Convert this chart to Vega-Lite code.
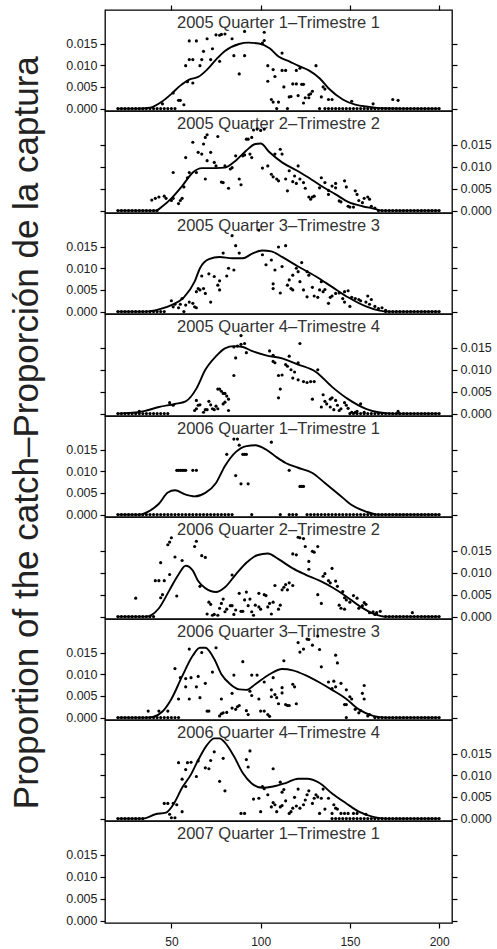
{
"$schema":"https://vega.github.io/schema/vega-lite/v6.json",
"background":"white",
"padding":{"left":10,"top":3,"right":5,"bottom":5},
"title":{"text":"Proportion of the catch–Proporción de la captura","orient":"left","anchor":"middle","fontSize":35,"font":"Liberation Sans","fontWeight":"normal","color":"#222","offset":20,"dx":43},
"config":{"view":{"stroke":"black","strokeWidth":1.3},"axis":{"domain":false,"grid":false,"tickColor":"black","tickSize":5,"tickWidth":1.2,"labelFont":"Liberation Sans","labelFontSize":12.5,"labelColor":"#222","labelPadding":3}},
"bounds":"flush","spacing":0,
"datasets":{
"titles":[{"q":1,"label":"2005 Quarter 1–Trimestre 1"},{"q":2,"label":"2005 Quarter 2–Trimestre 2"},{"q":3,"label":"2005 Quarter 3–Trimestre 3"},{"q":4,"label":"2005 Quarter 4–Trimestre 4"},{"q":5,"label":"2006 Quarter 1–Trimestre 1"},{"q":6,"label":"2006 Quarter 2–Trimestre 2"},{"q":7,"label":"2006 Quarter 3–Trimestre 3"},{"q":8,"label":"2006 Quarter 4–Trimestre 4"},{"q":9,"label":"2007 Quarter 1–Trimestre 1"}],
"q1":[{"x":20,"y":0},{"x":22,"y":0},{"x":24,"y":0},{"x":26,"y":0},{"x":28,"y":0},{"x":30,"y":0},{"x":32,"y":0},{"x":34,"y":0},{"x":36,"y":0},{"x":38,"y":0},{"x":40,"y":0},{"x":42,"y":0},{"x":44,"y":0},{"x":46,"y":0},{"x":48,"y":0},{"x":50,"y":0},{"x":52,"y":0},{"x":109,"y":0},{"x":115,"y":0},{"x":133,"y":0},{"x":136,"y":0},{"x":138,"y":0},{"x":140,"y":0},{"x":142,"y":0},{"x":144,"y":0},{"x":146,"y":0},{"x":148,"y":0},{"x":150,"y":0},{"x":152,"y":0},{"x":154,"y":0},{"x":156,"y":0},{"x":158,"y":0},{"x":160,"y":0},{"x":162,"y":0},{"x":164,"y":0},{"x":166,"y":0},{"x":168,"y":0},{"x":170,"y":0},{"x":172,"y":0},{"x":174,"y":0},{"x":176,"y":0},{"x":178,"y":0},{"x":180,"y":0},{"x":182,"y":0},{"x":184,"y":0},{"x":186,"y":0},{"x":188,"y":0},{"x":190,"y":0},{"x":192,"y":0},{"x":194,"y":0},{"x":196,"y":0},{"x":198,"y":0},{"x":200,"y":0},
{"x":45,"y":0.0011},{"x":51,"y":0.0036},{"x":54,"y":0.0019},{"x":55,"y":0.0019},{"x":57,"y":0.0009},{"x":58,"y":0.0099},{"x":60,"y":0.0113},{"x":60,"y":0.0156},{"x":64,"y":0.0156},{"x":62,"y":0.0113},{"x":59,"y":0.0062},{"x":62,"y":0.0059},{"x":66,"y":0.0099},{"x":67,"y":0.0113},{"x":68,"y":0.0132},{"x":70,"y":0.0161},{"x":72,"y":0.0113},{"x":73,"y":0.0138},{"x":75,"y":0.017},{"x":77,"y":0.0169},{"x":78,"y":0.0171},{"x":80,"y":0.0172},{"x":77,"y":0.0109},{"x":84,"y":0.0161},{"x":85,"y":0.0122},{"x":88,"y":0.008},{"x":91,"y":0.0122},{"x":91,"y":0.0178},{"x":101,"y":0.0151},{"x":102,"y":0.0157},{"x":102,"y":0.0176},{"x":104,"y":0.0099},{"x":104,"y":0.0063},{"x":106,"y":0.0021},{"x":107,"y":0.0015},{"x":107,"y":0.009},{"x":108,"y":0.0074},{"x":110,"y":0.0015},{"x":112,"y":0.0128},{"x":112,"y":0.0088},{"x":113,"y":0.005},{"x":114,"y":0.0088},{"x":116,"y":0.0027},{"x":117,"y":0.0028},{"x":118,"y":0.0057},{"x":120,"y":0.0057},{"x":120,"y":0.0088},{"x":121,"y":0.003},{"x":122,"y":0.0093},{"x":123,"y":0.0056},{"x":124,"y":0.0056},{"x":124,"y":0.0013},{"x":125,"y":0.0025},{"x":127,"y":0.0032},{"x":127,"y":0.0025},{"x":128,"y":0.0034},{"x":129,"y":0.004},{"x":131,"y":0.0099},{"x":134,"y":0.0027},{"x":135,"y":0.005},{"x":136,"y":0.0045},{"x":138,"y":0.0021},{"x":140,"y":0.0021},{"x":151,"y":0.0017},{"x":163,"y":0.0011},{"x":174,"y":0.0021},{"x":177,"y":0.0019}],
"c1":[{"x":20,"y":0},{"x":30,"y":0},{"x":38,"y":0.0002},{"x":45,"y":0.0017},{"x":50,"y":0.0034},{"x":55,"y":0.0053},{"x":60,"y":0.0067},{"x":65,"y":0.0073},{"x":70,"y":0.009},{"x":75,"y":0.0113},{"x":80,"y":0.0133},{"x":88,"y":0.0149},{"x":93,"y":0.0152},{"x":99,"y":0.015},{"x":105,"y":0.0139},{"x":110,"y":0.012},{"x":116,"y":0.0109},{"x":121,"y":0.0099},{"x":127,"y":0.0088},{"x":133,"y":0.007},{"x":138,"y":0.0047},{"x":146,"y":0.0021},{"x":153,"y":0.0009},{"x":161,"y":0.0004},{"x":168,"y":0.0001},{"x":180,"y":0},{"x":200,"y":0}],
"q2":[{"x":20,"y":0},{"x":22,"y":0},{"x":24,"y":0},{"x":26,"y":0},{"x":28,"y":0},{"x":30,"y":0},{"x":32,"y":0},{"x":34,"y":0},{"x":36,"y":0},{"x":38,"y":0},{"x":40,"y":0},{"x":42,"y":0},{"x":166,"y":0},{"x":168,"y":0},{"x":170,"y":0},{"x":172,"y":0},{"x":174,"y":0},{"x":176,"y":0},{"x":178,"y":0},{"x":180,"y":0},{"x":182,"y":0},{"x":184,"y":0},{"x":186,"y":0},{"x":188,"y":0},{"x":190,"y":0},{"x":192,"y":0},{"x":194,"y":0},{"x":196,"y":0},{"x":198,"y":0},{"x":200,"y":0},
{"x":39,"y":0.0024},{"x":41,"y":0.0028},{"x":43,"y":0.0031},{"x":46,"y":0.0033},{"x":47,"y":0.0028},{"x":50,"y":0.0023},{"x":51,"y":0.0028},{"x":54,"y":0.0016},{"x":55,"y":0.0023},{"x":56,"y":0.0028},{"x":51,"y":0.0087},{"x":57,"y":0.0054},{"x":58,"y":0.0121},{"x":59,"y":0.0075},{"x":60,"y":0.0087},{"x":62,"y":0.0156},{"x":64,"y":0.0087},{"x":65,"y":0.0133},{"x":67,"y":0.0129},{"x":68,"y":0.0152},{"x":69,"y":0.0167},{"x":70,"y":0.0173},{"x":70,"y":0.0114},{"x":69,"y":0.0072},{"x":72,"y":0.0133},{"x":74,"y":0.011},{"x":75,"y":0.0102},{"x":76,"y":0.0169},{"x":78,"y":0.0065},{"x":79,"y":0.0064},{"x":80,"y":0.0102},{"x":82,"y":0.0051},{"x":83,"y":0.0095},{"x":84,"y":0.0098},{"x":86,"y":0.0125},{"x":88,"y":0.0072},{"x":89,"y":0.0059},{"x":90,"y":0.0125},{"x":91,"y":0.0127},{"x":92,"y":0.0163},{"x":93,"y":0.0163},{"x":95,"y":0.0167},{"x":96,"y":0.0184},{"x":98,"y":0.0186},{"x":100,"y":0.0183},{"x":102,"y":0.0186},{"x":94,"y":0.0129},{"x":95,"y":0.0121},{"x":101,"y":0.0097},{"x":104,"y":0.0102},{"x":106,"y":0.0083},{"x":107,"y":0.0077},{"x":109,"y":0.0072},{"x":110,"y":0.0068},{"x":108,"y":0.0129},{"x":111,"y":0.014},{"x":112,"y":0.0129},{"x":114,"y":0.0072},{"x":115,"y":0.0045},{"x":116,"y":0.0091},{"x":118,"y":0.0066},{"x":120,"y":0.0062},{"x":119,"y":0.0079},{"x":121,"y":0.0102},{"x":122,"y":0.0072},{"x":124,"y":0.0064},{"x":125,"y":0.0051},{"x":127,"y":0.0031},{"x":128,"y":0.0026},{"x":129,"y":0.0031},{"x":130,"y":0.0033},{"x":133,"y":0.0052},{"x":134,"y":0.0075},{"x":136,"y":0.0064},{"x":138,"y":0.0046},{"x":138,"y":0.0037},{"x":140,"y":0.0056},{"x":142,"y":0.0062},{"x":142,"y":0.0052},{"x":144,"y":0.0022},{"x":145,"y":0.002},{"x":147,"y":0.0068},{"x":148,"y":0.0054},{"x":149,"y":0.001},{"x":150,"y":0.0008},{"x":152,"y":0.0008},{"x":153,"y":0.0045},{"x":154,"y":0.0037},{"x":155,"y":0.0023},{"x":157,"y":0.0018},{"x":158,"y":0.0028},{"x":160,"y":0.0031},{"x":161,"y":0.0026},{"x":162,"y":0.001},{"x":164,"y":0.0006}],
"c2":[{"x":20,"y":0},{"x":41,"y":0},{"x":45,"y":0.001},{"x":50,"y":0.0028},{"x":56,"y":0.0056},{"x":62,"y":0.0087},{"x":67,"y":0.0097},{"x":75,"y":0.0097},{"x":80,"y":0.0098},{"x":86,"y":0.0114},{"x":92,"y":0.0137},{"x":97,"y":0.0152},{"x":100,"y":0.0153},{"x":105,"y":0.0133},{"x":112,"y":0.011},{"x":120,"y":0.0092},{"x":127,"y":0.0075},{"x":134,"y":0.0056},{"x":142,"y":0.0037},{"x":149,"y":0.002},{"x":157,"y":0.001},{"x":164,"y":0.0004},{"x":168,"y":0},{"x":200,"y":0}],
"q3":[{"x":20,"y":0},{"x":22,"y":0},{"x":24,"y":0},{"x":26,"y":0},{"x":28,"y":0},{"x":30,"y":0},{"x":32,"y":0},{"x":34,"y":0},{"x":36,"y":0},{"x":38,"y":0},{"x":40,"y":0},{"x":42,"y":0},{"x":44,"y":0},{"x":46,"y":0},{"x":57,"y":0},{"x":170,"y":0},{"x":172,"y":0},{"x":174,"y":0},{"x":176,"y":0},{"x":178,"y":0},{"x":180,"y":0},{"x":182,"y":0},{"x":184,"y":0},{"x":186,"y":0},{"x":188,"y":0},{"x":190,"y":0},{"x":192,"y":0},{"x":194,"y":0},{"x":196,"y":0},{"x":198,"y":0},{"x":200,"y":0},
{"x":50,"y":0.0025},{"x":51,"y":0.0011},{"x":52,"y":0.0017},{"x":54,"y":0.0009},{"x":55,"y":0.0017},{"x":56,"y":0.003},{"x":58,"y":0.0015},{"x":60,"y":0.0022},{"x":62,"y":0.0019},{"x":63,"y":0.0011},{"x":64,"y":0.0009},{"x":64,"y":0.0046},{"x":65,"y":0.0053},{"x":66,"y":0.005},{"x":68,"y":0.0053},{"x":67,"y":0.0082},{"x":69,"y":0.0042},{"x":71,"y":0.0087},{"x":72,"y":0.0022},{"x":74,"y":0.0081},{"x":76,"y":0.0061},{"x":77,"y":0.005},{"x":77,"y":0.0071},{"x":79,"y":0.0135},{"x":81,"y":0.0082},{"x":82,"y":0.01},{"x":85,"y":0.0096},{"x":84,"y":0.0175},{"x":86,"y":0.0152},{"x":88,"y":0.0135},{"x":99,"y":0.0188},{"x":101,"y":0.0131},{"x":103,"y":0.0108},{"x":106,"y":0.0119},{"x":107,"y":0.0064},{"x":107,"y":0.0053},{"x":108,"y":0.0096},{"x":110,"y":0.0149},{"x":114,"y":0.0152},{"x":111,"y":0.0043},{"x":112,"y":0.0104},{"x":115,"y":0.0061},{"x":116,"y":0.0073},{"x":117,"y":0.0053},{"x":118,"y":0.005},{"x":118,"y":0.0084},{"x":120,"y":0.01},{"x":121,"y":0.0092},{"x":123,"y":0.0113},{"x":122,"y":0.0069},{"x":124,"y":0.005},{"x":126,"y":0.0034},{"x":126,"y":0.0092},{"x":127,"y":0.0084},{"x":129,"y":0.0056},{"x":130,"y":0.0036},{"x":132,"y":0.0033},{"x":133,"y":0.005},{"x":134,"y":0.0069},{"x":135,"y":0.0046},{"x":136,"y":0.0051},{"x":138,"y":0.0019},{"x":139,"y":0.0033},{"x":140,"y":0.0036},{"x":142,"y":0.0042},{"x":144,"y":0.0043},{"x":146,"y":0.003},{"x":147,"y":0.0022},{"x":147,"y":0.0046},{"x":149,"y":0.0048},{"x":150,"y":0.0012},{"x":151,"y":0.0033},{"x":153,"y":0.003},{"x":155,"y":0.0028},{"x":156,"y":0.0025},{"x":159,"y":0.0022},{"x":160,"y":0.0036},{"x":161,"y":0.0017},{"x":162,"y":0.0028},{"x":164,"y":0.0012},{"x":166,"y":0.0007},{"x":168,"y":0.0009},{"x":170,"y":0.0003}],
"c3":[{"x":20,"y":0},{"x":36,"y":0},{"x":43,"y":0.0005},{"x":50,"y":0.0015},{"x":57,"y":0.0033},{"x":63,"y":0.0069},{"x":66,"y":0.01},{"x":71,"y":0.0121},{"x":77,"y":0.0126},{"x":84,"y":0.0123},{"x":90,"y":0.0123},{"x":95,"y":0.0133},{"x":101,"y":0.0141},{"x":106,"y":0.0139},{"x":112,"y":0.0126},{"x":121,"y":0.0104},{"x":131,"y":0.0081},{"x":140,"y":0.0057},{"x":149,"y":0.0033},{"x":159,"y":0.0012},{"x":166,"y":0.0003},{"x":172,"y":0},{"x":200,"y":0}],
"q4":[{"x":20,"y":0},{"x":22,"y":0},{"x":24,"y":0},{"x":26,"y":0},{"x":28,"y":0},{"x":30,"y":0},{"x":32,"y":0},{"x":34,"y":0},{"x":36,"y":0},{"x":38,"y":0},{"x":40,"y":0},{"x":42,"y":0},{"x":44,"y":0},{"x":46,"y":0},{"x":48,"y":0},{"x":150,"y":0},{"x":152,"y":0},{"x":154,"y":0},{"x":156,"y":0},{"x":158,"y":0},{"x":160,"y":0},{"x":162,"y":0},{"x":164,"y":0},{"x":166,"y":0},{"x":168,"y":0},{"x":170,"y":0},{"x":172,"y":0},{"x":174,"y":0},{"x":176,"y":0},{"x":178,"y":0},{"x":180,"y":0},{"x":182,"y":0},{"x":184,"y":0},{"x":186,"y":0},{"x":188,"y":0},{"x":190,"y":0},{"x":192,"y":0},{"x":194,"y":0},{"x":196,"y":0},{"x":198,"y":0},{"x":200,"y":0},
{"x":32,"y":0.0005},{"x":49,"y":0.0025},{"x":51,"y":0.0019},{"x":63,"y":0.0007},{"x":64,"y":0.0011},{"x":64,"y":0.003},{"x":65,"y":0.0019},{"x":66,"y":0.002},{"x":68,"y":0.0003},{"x":69,"y":0.0009},{"x":70,"y":0.0009},{"x":71,"y":0.0028},{"x":72,"y":0.002},{"x":73,"y":0.0011},{"x":74,"y":0.0009},{"x":75,"y":0.0017},{"x":76,"y":0.0011},{"x":76,"y":0.0056},{"x":77,"y":0.0056},{"x":78,"y":0.0051},{"x":79,"y":0.0046},{"x":80,"y":0.0046},{"x":81,"y":0.004},{"x":79,"y":0.0022},{"x":80,"y":0.0026},{"x":82,"y":0.0033},{"x":82,"y":0.0007},{"x":85,"y":0.0087},{"x":86,"y":0.0127},{"x":85,"y":0.0152},{"x":87,"y":0.0154},{"x":89,"y":0.0158},{"x":91,"y":0.016},{"x":92,"y":0.0139},{"x":89,"y":0.0178},{"x":105,"y":0.0143},{"x":107,"y":0.0133},{"x":107,"y":0.0119},{"x":108,"y":0.0116},{"x":110,"y":0.0087},{"x":112,"y":0.0088},{"x":111,"y":0.0056},{"x":110,"y":0.0036},{"x":114,"y":0.0112},{"x":115,"y":0.0108},{"x":116,"y":0.0131},{"x":117,"y":0.01},{"x":119,"y":0.0095},{"x":118,"y":0.0081},{"x":121,"y":0.0116},{"x":121,"y":0.0077},{"x":122,"y":0.016},{"x":124,"y":0.0073},{"x":126,"y":0.0071},{"x":128,"y":0.0073},{"x":130,"y":0.0073},{"x":132,"y":0.01},{"x":129,"y":0.0033},{"x":134,"y":0.0015},{"x":135,"y":0.0043},{"x":136,"y":0.0028},{"x":137,"y":0.0022},{"x":139,"y":0.0033},{"x":140,"y":0.0036},{"x":139,"y":0.0015},{"x":141,"y":0.0009},{"x":142,"y":0.003},{"x":143,"y":0.0019},{"x":144,"y":0.0007},{"x":145,"y":0.0011},{"x":147,"y":0.0025},{"x":148,"y":0.0019},{"x":149,"y":0.0012},{"x":151,"y":0.0003},{"x":153,"y":0.0003},{"x":154,"y":0.0005},{"x":156,"y":0.0022},{"x":158,"y":0.0003},{"x":177,"y":0.0005}],
"c4":[{"x":20,"y":0},{"x":34,"y":0.0005},{"x":43,"y":0.0015},{"x":52,"y":0.0022},{"x":58,"y":0.0028},{"x":64,"y":0.0057},{"x":69,"y":0.01},{"x":75,"y":0.0131},{"x":80,"y":0.0149},{"x":85,"y":0.0154},{"x":90,"y":0.0152},{"x":95,"y":0.0143},{"x":103,"y":0.0133},{"x":112,"y":0.0126},{"x":121,"y":0.0112},{"x":131,"y":0.0095},{"x":140,"y":0.0061},{"x":149,"y":0.0033},{"x":159,"y":0.0011},{"x":166,"y":0.0003},{"x":174,"y":0},{"x":200,"y":0}],
"q5":[{"x":20,"y":0},{"x":22,"y":0},{"x":24,"y":0},{"x":26,"y":0},{"x":28,"y":0},{"x":30,"y":0},{"x":32,"y":0},{"x":34,"y":0},{"x":36,"y":0},{"x":38,"y":0},{"x":40,"y":0},{"x":42,"y":0},{"x":44,"y":0},{"x":46,"y":0},{"x":48,"y":0},{"x":50,"y":0},{"x":52,"y":0},{"x":54,"y":0},{"x":56,"y":0},{"x":58,"y":0},{"x":60,"y":0},{"x":62,"y":0},{"x":64,"y":0},{"x":66,"y":0},{"x":68,"y":0},{"x":70,"y":0},{"x":72,"y":0},{"x":74,"y":0},{"x":76,"y":0},{"x":78,"y":0},{"x":80,"y":0},{"x":82,"y":0},{"x":84,"y":0},{"x":95,"y":0},{"x":111,"y":0},{"x":116,"y":0},{"x":118,"y":0},{"x":120,"y":0},{"x":126,"y":0},{"x":128,"y":0},{"x":130,"y":0},{"x":132,"y":0},{"x":134,"y":0},{"x":136,"y":0},{"x":138,"y":0},{"x":140,"y":0},{"x":142,"y":0},{"x":144,"y":0},{"x":146,"y":0},{"x":148,"y":0},{"x":150,"y":0},{"x":152,"y":0},{"x":154,"y":0},{"x":156,"y":0},{"x":158,"y":0},{"x":160,"y":0},{"x":162,"y":0},{"x":164,"y":0},{"x":166,"y":0},{"x":168,"y":0},{"x":170,"y":0},{"x":172,"y":0},{"x":174,"y":0},{"x":176,"y":0},{"x":178,"y":0},{"x":180,"y":0},{"x":182,"y":0},{"x":184,"y":0},{"x":186,"y":0},{"x":188,"y":0},{"x":190,"y":0},{"x":192,"y":0},{"x":194,"y":0},{"x":196,"y":0},{"x":198,"y":0},{"x":200,"y":0},
{"x":53,"y":0.0102},{"x":54,"y":0.0102},{"x":55,"y":0.0102},{"x":56,"y":0.0102},{"x":57,"y":0.0102},{"x":58,"y":0.0102},{"x":62,"y":0.0102},{"x":64,"y":0.0102},{"x":81,"y":0.0139},{"x":85,"y":0.0174},{"x":87,"y":0.0174},{"x":86,"y":0.009},{"x":88,"y":0.016},{"x":89,"y":0.0071},{"x":93,"y":0.0071},{"x":90,"y":0.0139},{"x":91,"y":0.0139},{"x":92,"y":0.0139},{"x":106,"y":0.0167},{"x":116,"y":0.0102},{"x":122,"y":0.0065},{"x":123,"y":0.0065},{"x":124,"y":0.0065}],
"c5":[{"x":20,"y":0},{"x":32,"y":0},{"x":37,"y":0.0007},{"x":43,"y":0.0025},{"x":48,"y":0.0051},{"x":52,"y":0.0056},{"x":58,"y":0.0046},{"x":63,"y":0.0042},{"x":69,"y":0.005},{"x":75,"y":0.0073},{"x":80,"y":0.0112},{"x":86,"y":0.0144},{"x":92,"y":0.0158},{"x":97,"y":0.016},{"x":103,"y":0.015},{"x":108,"y":0.0135},{"x":114,"y":0.0119},{"x":121,"y":0.0108},{"x":129,"y":0.0096},{"x":136,"y":0.0073},{"x":144,"y":0.0046},{"x":151,"y":0.0022},{"x":159,"y":0.0007},{"x":166,"y":0},{"x":200,"y":0}],
"q6":[{"x":20,"y":0},{"x":22,"y":0},{"x":24,"y":0},{"x":26,"y":0},{"x":28,"y":0},{"x":30,"y":0},{"x":32,"y":0},{"x":34,"y":0},{"x":36,"y":0},{"x":38,"y":0},{"x":40,"y":0},{"x":170,"y":0},{"x":172,"y":0},{"x":174,"y":0},{"x":176,"y":0},{"x":178,"y":0},{"x":180,"y":0},{"x":182,"y":0},{"x":184,"y":0},{"x":186,"y":0},{"x":188,"y":0},{"x":190,"y":0},{"x":192,"y":0},{"x":194,"y":0},{"x":196,"y":0},{"x":198,"y":0},{"x":200,"y":0},
{"x":30,"y":0.0042},{"x":44,"y":0.0123},{"x":41,"y":0.0082},{"x":43,"y":0.0082},{"x":44,"y":0.0043},{"x":45,"y":0.005},{"x":46,"y":0.0082},{"x":48,"y":0.0164},{"x":49,"y":0.017},{"x":50,"y":0.018},{"x":49,"y":0.0096},{"x":52,"y":0.0136},{"x":53,"y":0.0047},{"x":56,"y":0.0128},{"x":63,"y":0.016},{"x":64,"y":0.0172},{"x":67,"y":0.0139},{"x":69,"y":0.0135},{"x":66,"y":0.0069},{"x":70,"y":0.0006},{"x":71,"y":0.0033},{"x":72,"y":0.0028},{"x":73,"y":0.0003},{"x":74,"y":0.0005},{"x":76,"y":0.0003},{"x":77,"y":0.0019},{"x":78,"y":0.003},{"x":79,"y":0.004},{"x":80,"y":0.0011},{"x":81,"y":0.0017},{"x":83,"y":0.0025},{"x":84,"y":0.0025},{"x":84,"y":0.0095},{"x":85,"y":0.0005},{"x":86,"y":0.0015},{"x":88,"y":0.0053},{"x":89,"y":0.0012},{"x":90,"y":0.0012},{"x":91,"y":0.0038},{"x":92,"y":0.0056},{"x":93,"y":0.0025},{"x":94,"y":0.004},{"x":95,"y":0.0011},{"x":96,"y":0.0003},{"x":97,"y":0.0026},{"x":99,"y":0.0022},{"x":99,"y":0.0053},{"x":100,"y":0.0017},{"x":102,"y":0.005},{"x":103,"y":0.0048},{"x":104,"y":0.0022},{"x":105,"y":0.003},{"x":106,"y":0.0006},{"x":107,"y":0.0033},{"x":108,"y":0.0071},{"x":110,"y":0.0017},{"x":111,"y":0.0026},{"x":112,"y":0.0061},{"x":113,"y":0.0067},{"x":114,"y":0.0073},{"x":115,"y":0.0061},{"x":116,"y":0.0077},{"x":118,"y":0.0071},{"x":118,"y":0.0143},{"x":120,"y":0.0141},{"x":121,"y":0.0181},{"x":122,"y":0.018},{"x":124,"y":0.0178},{"x":125,"y":0.016},{"x":127,"y":0.0108},{"x":127,"y":0.0126},{"x":129,"y":0.0149},{"x":130,"y":0.0147},{"x":132,"y":0.005},{"x":132,"y":0.016},{"x":134,"y":0.003},{"x":135,"y":0.0092},{"x":136,"y":0.0098},{"x":138,"y":0.0082},{"x":139,"y":0.0077},{"x":140,"y":0.011},{"x":142,"y":0.0081},{"x":143,"y":0.0069},{"x":144,"y":0.0026},{"x":145,"y":0.0019},{"x":147,"y":0.0017},{"x":146,"y":0.0057},{"x":147,"y":0.0043},{"x":148,"y":0.0038},{"x":150,"y":0.0033},{"x":152,"y":0.0048},{"x":154,"y":0.0042},{"x":155,"y":0.0019},{"x":157,"y":0.0025},{"x":158,"y":0.0032},{"x":159,"y":0.0028},{"x":161,"y":0.0009},{"x":163,"y":0.0011},{"x":164,"y":0.0005},{"x":165,"y":0.0009},{"x":167,"y":0.0012},{"x":185,"y":0.0009}],
"c6":[{"x":20,"y":0},{"x":36,"y":0},{"x":39,"y":0.0004},{"x":43,"y":0.0019},{"x":49,"y":0.0061},{"x":54,"y":0.0096},{"x":58,"y":0.0116},{"x":62,"y":0.0105},{"x":65,"y":0.0081},{"x":69,"y":0.0065},{"x":75,"y":0.0056},{"x":80,"y":0.0067},{"x":86,"y":0.0096},{"x":92,"y":0.0123},{"x":98,"y":0.014},{"x":104,"y":0.0144},{"x":110,"y":0.0131},{"x":118,"y":0.011},{"x":125,"y":0.0096},{"x":133,"y":0.0082},{"x":140,"y":0.0067},{"x":148,"y":0.0046},{"x":155,"y":0.0025},{"x":163,"y":0.0007},{"x":170,"y":0},{"x":200,"y":0}],
"q7":[{"x":20,"y":0},{"x":22,"y":0},{"x":24,"y":0},{"x":26,"y":0},{"x":28,"y":0},{"x":30,"y":0},{"x":32,"y":0},{"x":34,"y":0},{"x":36,"y":0},{"x":38,"y":0},{"x":40,"y":0},{"x":42,"y":0},{"x":44,"y":0},{"x":46,"y":0},{"x":48,"y":0},{"x":50,"y":0},{"x":52,"y":0},{"x":54,"y":0},{"x":148,"y":0},{"x":164,"y":0},{"x":166,"y":0},{"x":168,"y":0},{"x":170,"y":0},{"x":172,"y":0},{"x":174,"y":0},{"x":176,"y":0},{"x":178,"y":0},{"x":180,"y":0},{"x":182,"y":0},{"x":184,"y":0},{"x":186,"y":0},{"x":188,"y":0},{"x":190,"y":0},{"x":192,"y":0},{"x":194,"y":0},{"x":196,"y":0},{"x":198,"y":0},{"x":200,"y":0},
{"x":37,"y":0.0015},{"x":43,"y":0.0015},{"x":48,"y":0.0015},{"x":52,"y":0.0113},{"x":54,"y":0.0043},{"x":55,"y":0.0092},{"x":58,"y":0.009},{"x":58,"y":0.0071},{"x":60,"y":0.0158},{"x":61,"y":0.0092},{"x":64,"y":0.0071},{"x":60,"y":0.0043},{"x":65,"y":0.0095},{"x":66,"y":0.0046},{"x":67,"y":0.015},{"x":69,"y":0.0079},{"x":70,"y":0.0015},{"x":71,"y":0.0015},{"x":73,"y":0.0105},{"x":75,"y":0.0161},{"x":77,"y":0.0004},{"x":78,"y":0.0009},{"x":78,"y":0.0043},{"x":79,"y":0.0011},{"x":81,"y":0.0012},{"x":84,"y":0.0056},{"x":85,"y":0.0098},{"x":84,"y":0.0022},{"x":86,"y":0.0019},{"x":87,"y":0.0025},{"x":88,"y":0.0028},{"x":90,"y":0.0129},{"x":92,"y":0.0016},{"x":93,"y":0.0007},{"x":94,"y":0.0061},{"x":95,"y":0.0051},{"x":95,"y":0.0098},{"x":98,"y":0.0098},{"x":99,"y":0.0043},{"x":100,"y":0.0015},{"x":102,"y":0.0015},{"x":102,"y":0.0082},{"x":104,"y":0.0007},{"x":105,"y":0.0003},{"x":106,"y":0.0064},{"x":106,"y":0.0048},{"x":108,"y":0.0053},{"x":107,"y":0.0092},{"x":109,"y":0.0046},{"x":110,"y":0.0032},{"x":112,"y":0.0057},{"x":112,"y":0.0069},{"x":113,"y":0.0131},{"x":114,"y":0.003},{"x":115,"y":0.0028},{"x":116,"y":0.0028},{"x":118,"y":0.0077},{"x":119,"y":0.0071},{"x":120,"y":0.0032},{"x":121,"y":0.0173},{"x":122,"y":0.0151},{"x":124,"y":0.0158},{"x":126,"y":0.0181},{"x":127,"y":0.018},{"x":129,"y":0.0167},{"x":132,"y":0.0188},{"x":133,"y":0.0157},{"x":134,"y":0.0117},{"x":138,"y":0.0082},{"x":140,"y":0.0067},{"x":141,"y":0.0084},{"x":142,"y":0.0071},{"x":142,"y":0.0144},{"x":143,"y":0.0126},{"x":145,"y":0.0079},{"x":147,"y":0.003},{"x":148,"y":0.003},{"x":148,"y":0.0064},{"x":150,"y":0.0048},{"x":151,"y":0.0043},{"x":153,"y":0.0019},{"x":155,"y":0.0011},{"x":156,"y":0.0016},{"x":157,"y":0.0056},{"x":158,"y":0.0074},{"x":158,"y":0.0043},{"x":160,"y":0.0004},{"x":161,"y":0.0007}],
"c7":[{"x":20,"y":0},{"x":36,"y":0},{"x":40,"y":0.0002},{"x":45,"y":0.0014},{"x":50,"y":0.0043},{"x":56,"y":0.0095},{"x":62,"y":0.0143},{"x":66,"y":0.0161},{"x":69,"y":0.0161},{"x":74,"y":0.0135},{"x":78,"y":0.01},{"x":83,"y":0.0077},{"x":88,"y":0.0065},{"x":92,"y":0.0064},{"x":97,"y":0.0077},{"x":105,"y":0.01},{"x":112,"y":0.0112},{"x":118,"y":0.0109},{"x":125,"y":0.0098},{"x":133,"y":0.0081},{"x":140,"y":0.0064},{"x":148,"y":0.0043},{"x":155,"y":0.0019},{"x":163,"y":0.0004},{"x":170,"y":0},{"x":200,"y":0}],
"q8":[{"x":20,"y":0},{"x":22,"y":0},{"x":24,"y":0},{"x":26,"y":0},{"x":28,"y":0},{"x":30,"y":0},{"x":32,"y":0},{"x":34,"y":0},{"x":140,"y":0},{"x":142,"y":0},{"x":144,"y":0},{"x":146,"y":0},{"x":148,"y":0},{"x":150,"y":0},{"x":152,"y":0},{"x":154,"y":0},{"x":156,"y":0},{"x":158,"y":0},{"x":160,"y":0},{"x":162,"y":0},{"x":164,"y":0},{"x":166,"y":0},{"x":168,"y":0},{"x":170,"y":0},{"x":172,"y":0},{"x":174,"y":0},{"x":176,"y":0},{"x":178,"y":0},{"x":180,"y":0},{"x":182,"y":0},{"x":184,"y":0},{"x":186,"y":0},{"x":188,"y":0},{"x":190,"y":0},{"x":192,"y":0},{"x":194,"y":0},{"x":196,"y":0},{"x":198,"y":0},{"x":200,"y":0},
{"x":46,"y":0.0035},{"x":48,"y":0.0035},{"x":49,"y":0.001},{"x":50,"y":0.0002},{"x":52,"y":0.0002},{"x":51,"y":0.0035},{"x":53,"y":0.0032},{"x":54,"y":0.0129},{"x":59,"y":0.0129},{"x":56,"y":0.0016},{"x":56,"y":0.0091},{"x":58,"y":0.0074},{"x":58,"y":0.0113},{"x":61,"y":0.013},{"x":64,"y":0.0097},{"x":65,"y":0.0133},{"x":69,"y":0.0117},{"x":71,"y":0.0115},{"x":72,"y":0.0134},{"x":74,"y":0.0154},{"x":77,"y":0.0086},{"x":79,"y":0.0139},{"x":80,"y":0.0064},{"x":89,"y":0.0012},{"x":91,"y":0.0012},{"x":92,"y":0.0136},{"x":93,"y":0.0119},{"x":94,"y":0.0156},{"x":96,"y":0.0045},{"x":99,"y":0.0047},{"x":100,"y":0.0016},{"x":101,"y":0.0074},{"x":102,"y":0.0069},{"x":104,"y":0.0055},{"x":106,"y":0.0027},{"x":107,"y":0.0037},{"x":108,"y":0.0032},{"x":107,"y":0.0115},{"x":109,"y":0.0016},{"x":111,"y":0.0027},{"x":112,"y":0.003},{"x":112,"y":0.0061},{"x":113,"y":0.0067},{"x":111,"y":0.0084},{"x":114,"y":0.0041},{"x":116,"y":0.0012},{"x":117,"y":0.0016},{"x":118,"y":0.0024},{"x":119,"y":0.0049},{"x":120,"y":0.0029},{"x":121,"y":0.0068},{"x":122,"y":0.0024},{"x":124,"y":0.0032},{"x":125,"y":0.0043},{"x":126,"y":0.0055},{"x":127,"y":0.0064},{"x":129,"y":0.0035},{"x":130,"y":0.0047},{"x":131,"y":0.0055},{"x":132,"y":0.005},{"x":133,"y":0.0012},{"x":134,"y":0.0047},{"x":135,"y":0.0068},{"x":136,"y":0.0022},{"x":138,"y":0.0047},{"x":140,"y":0.0012},{"x":141,"y":0.0032},{"x":142,"y":0.0024},{"x":143,"y":0.0022},{"x":145,"y":0.0012},{"x":147,"y":0.0012},{"x":149,"y":0.0012},{"x":152,"y":0.0012},{"x":154,"y":0.0012},{"x":159,"y":0.001}],
"c8":[{"x":20,"y":0},{"x":34,"y":0},{"x":41,"y":0.001},{"x":47,"y":0.0014},{"x":51,"y":0.0032},{"x":56,"y":0.0071},{"x":61,"y":0.0102},{"x":65,"y":0.0135},{"x":70,"y":0.017},{"x":74,"y":0.0185},{"x":77,"y":0.0185},{"x":80,"y":0.0175},{"x":85,"y":0.0144},{"x":90,"y":0.0105},{"x":95,"y":0.0081},{"x":101,"y":0.0071},{"x":107,"y":0.0074},{"x":114,"y":0.0082},{"x":121,"y":0.0092},{"x":126,"y":0.0092},{"x":133,"y":0.0082},{"x":140,"y":0.0058},{"x":148,"y":0.0035},{"x":155,"y":0.0016},{"x":163,"y":0.0004},{"x":170,"y":0},{"x":200,"y":0}],
"q9":[],
"c9":[]
},
"vconcat":[
{"width":347,"height":101,"resolve":{"axis":{"x":"independent","y":"independent"}},"layer":[
{"data":{"name":"titles"},"transform":[{"filter":"datum.q == 1"}],"mark":{"type":"text","fontSize":16.5,"font":"Liberation Sans","color":"#333","baseline":"middle"},"encoding":{"x":{"datum":110,"type":"quantitative","scale":{"domain":[12.8,207.2],"nice":false,"zero":false},"axis":null},"y":{"datum":0.0197,"type":"quantitative","scale":{"domain":[-0.00055,0.02273],"nice":false,"zero":false},"axis":null},"text":{"field":"label"}}},
{"data":{"name":"c1"},"mark":{"type":"line","color":"black","strokeWidth":1.9,"interpolate":"monotone"},"encoding":{"x":{"field":"x","type":"quantitative","axis":null},"y":{"field":"y","type":"quantitative","axis":{"orient":"right","values":[0,0.005,0.01,0.015],"labels":false,"title":null}}}},
{"data":{"name":"q1"},"mark":{"type":"circle","size":10,"color":"black","opacity":1},"encoding":{"x":{"field":"x","type":"quantitative","axis":{"orient":"top","values":[50,100,150,200],"labels":false,"title":null}},"y":{"field":"y","type":"quantitative","axis":{"orient":"left","values":[0,0.005,0.01,0.015],"format":".3f","title":null}}}}]},
{"width":347,"height":102,"resolve":{"axis":{"x":"independent","y":"independent"}},"layer":[
{"data":{"name":"titles"},"transform":[{"filter":"datum.q == 2"}],"mark":{"type":"text","fontSize":16.5,"font":"Liberation Sans","color":"#333","baseline":"middle"},"encoding":{"x":{"datum":110,"type":"quantitative","scale":{"domain":[12.8,207.2],"nice":false,"zero":false},"axis":null},"y":{"datum":0.0197,"type":"quantitative","scale":{"domain":[-0.00055,0.02273],"nice":false,"zero":false},"axis":null},"text":{"field":"label"}}},
{"data":{"name":"c2"},"mark":{"type":"line","color":"black","strokeWidth":1.9,"interpolate":"monotone"},"encoding":{"x":{"field":"x","type":"quantitative","axis":null},"y":{"field":"y","type":"quantitative","axis":{"orient":"right","values":[0,0.005,0.01,0.015],"format":".3f","title":null}}}},
{"data":{"name":"q2"},"mark":{"type":"circle","size":10,"color":"black","opacity":1},"encoding":{"x":{"field":"x","type":"quantitative","axis":null},"y":{"field":"y","type":"quantitative","axis":{"orient":"left","values":[0,0.005,0.01,0.015],"labels":false,"title":null}}}}]},
{"width":347,"height":101,"resolve":{"axis":{"x":"independent","y":"independent"}},"layer":[
{"data":{"name":"titles"},"transform":[{"filter":"datum.q == 3"}],"mark":{"type":"text","fontSize":16.5,"font":"Liberation Sans","color":"#333","baseline":"middle"},"encoding":{"x":{"datum":110,"type":"quantitative","scale":{"domain":[12.8,207.2],"nice":false,"zero":false},"axis":null},"y":{"datum":0.0197,"type":"quantitative","scale":{"domain":[-0.00055,0.02273],"nice":false,"zero":false},"axis":null},"text":{"field":"label"}}},
{"data":{"name":"c3"},"mark":{"type":"line","color":"black","strokeWidth":1.9,"interpolate":"monotone"},"encoding":{"x":{"field":"x","type":"quantitative","axis":null},"y":{"field":"y","type":"quantitative","axis":{"orient":"right","values":[0,0.005,0.01,0.015],"labels":false,"title":null}}}},
{"data":{"name":"q3"},"mark":{"type":"circle","size":10,"color":"black","opacity":1},"encoding":{"x":{"field":"x","type":"quantitative","axis":null},"y":{"field":"y","type":"quantitative","axis":{"orient":"left","values":[0,0.005,0.01,0.015],"format":".3f","title":null}}}}]},
{"width":347,"height":102,"resolve":{"axis":{"x":"independent","y":"independent"}},"layer":[
{"data":{"name":"titles"},"transform":[{"filter":"datum.q == 4"}],"mark":{"type":"text","fontSize":16.5,"font":"Liberation Sans","color":"#333","baseline":"middle"},"encoding":{"x":{"datum":110,"type":"quantitative","scale":{"domain":[12.8,207.2],"nice":false,"zero":false},"axis":null},"y":{"datum":0.0197,"type":"quantitative","scale":{"domain":[-0.00055,0.02273],"nice":false,"zero":false},"axis":null},"text":{"field":"label"}}},
{"data":{"name":"c4"},"mark":{"type":"line","color":"black","strokeWidth":1.9,"interpolate":"monotone"},"encoding":{"x":{"field":"x","type":"quantitative","axis":null},"y":{"field":"y","type":"quantitative","axis":{"orient":"right","values":[0,0.005,0.01,0.015],"format":".3f","title":null}}}},
{"data":{"name":"q4"},"mark":{"type":"circle","size":10,"color":"black","opacity":1},"encoding":{"x":{"field":"x","type":"quantitative","axis":null},"y":{"field":"y","type":"quantitative","axis":{"orient":"left","values":[0,0.005,0.01,0.015],"labels":false,"title":null}}}}]},
{"width":347,"height":101,"resolve":{"axis":{"x":"independent","y":"independent"}},"layer":[
{"data":{"name":"titles"},"transform":[{"filter":"datum.q == 5"}],"mark":{"type":"text","fontSize":16.5,"font":"Liberation Sans","color":"#333","baseline":"middle"},"encoding":{"x":{"datum":110,"type":"quantitative","scale":{"domain":[12.8,207.2],"nice":false,"zero":false},"axis":null},"y":{"datum":0.0197,"type":"quantitative","scale":{"domain":[-0.00055,0.02273],"nice":false,"zero":false},"axis":null},"text":{"field":"label"}}},
{"data":{"name":"c5"},"mark":{"type":"line","color":"black","strokeWidth":1.9,"interpolate":"monotone"},"encoding":{"x":{"field":"x","type":"quantitative","axis":null},"y":{"field":"y","type":"quantitative","axis":{"orient":"right","values":[0,0.005,0.01,0.015],"labels":false,"title":null}}}},
{"data":{"name":"q5"},"mark":{"type":"circle","size":10,"color":"black","opacity":1},"encoding":{"x":{"field":"x","type":"quantitative","axis":null},"y":{"field":"y","type":"quantitative","axis":{"orient":"left","values":[0,0.005,0.01,0.015],"format":".3f","title":null}}}}]},
{"width":347,"height":102,"resolve":{"axis":{"x":"independent","y":"independent"}},"layer":[
{"data":{"name":"titles"},"transform":[{"filter":"datum.q == 6"}],"mark":{"type":"text","fontSize":16.5,"font":"Liberation Sans","color":"#333","baseline":"middle"},"encoding":{"x":{"datum":110,"type":"quantitative","scale":{"domain":[12.8,207.2],"nice":false,"zero":false},"axis":null},"y":{"datum":0.0197,"type":"quantitative","scale":{"domain":[-0.00055,0.02273],"nice":false,"zero":false},"axis":null},"text":{"field":"label"}}},
{"data":{"name":"c6"},"mark":{"type":"line","color":"black","strokeWidth":1.9,"interpolate":"monotone"},"encoding":{"x":{"field":"x","type":"quantitative","axis":null},"y":{"field":"y","type":"quantitative","axis":{"orient":"right","values":[0,0.005,0.01,0.015],"format":".3f","title":null}}}},
{"data":{"name":"q6"},"mark":{"type":"circle","size":10,"color":"black","opacity":1},"encoding":{"x":{"field":"x","type":"quantitative","axis":null},"y":{"field":"y","type":"quantitative","axis":{"orient":"left","values":[0,0.005,0.01,0.015],"labels":false,"title":null}}}}]},
{"width":347,"height":101,"resolve":{"axis":{"x":"independent","y":"independent"}},"layer":[
{"data":{"name":"titles"},"transform":[{"filter":"datum.q == 7"}],"mark":{"type":"text","fontSize":16.5,"font":"Liberation Sans","color":"#333","baseline":"middle"},"encoding":{"x":{"datum":110,"type":"quantitative","scale":{"domain":[12.8,207.2],"nice":false,"zero":false},"axis":null},"y":{"datum":0.0197,"type":"quantitative","scale":{"domain":[-0.00055,0.02273],"nice":false,"zero":false},"axis":null},"text":{"field":"label"}}},
{"data":{"name":"c7"},"mark":{"type":"line","color":"black","strokeWidth":1.9,"interpolate":"monotone"},"encoding":{"x":{"field":"x","type":"quantitative","axis":null},"y":{"field":"y","type":"quantitative","axis":{"orient":"right","values":[0,0.005,0.01,0.015],"labels":false,"title":null}}}},
{"data":{"name":"q7"},"mark":{"type":"circle","size":10,"color":"black","opacity":1},"encoding":{"x":{"field":"x","type":"quantitative","axis":null},"y":{"field":"y","type":"quantitative","axis":{"orient":"left","values":[0,0.005,0.01,0.015],"format":".3f","title":null}}}}]},
{"width":347,"height":101,"resolve":{"axis":{"x":"independent","y":"independent"}},"layer":[
{"data":{"name":"titles"},"transform":[{"filter":"datum.q == 8"}],"mark":{"type":"text","fontSize":16.5,"font":"Liberation Sans","color":"#333","baseline":"middle"},"encoding":{"x":{"datum":110,"type":"quantitative","scale":{"domain":[12.8,207.2],"nice":false,"zero":false},"axis":null},"y":{"datum":0.0197,"type":"quantitative","scale":{"domain":[-0.00055,0.02273],"nice":false,"zero":false},"axis":null},"text":{"field":"label"}}},
{"data":{"name":"c8"},"mark":{"type":"line","color":"black","strokeWidth":1.9,"interpolate":"monotone"},"encoding":{"x":{"field":"x","type":"quantitative","axis":null},"y":{"field":"y","type":"quantitative","axis":{"orient":"right","values":[0,0.005,0.01,0.015],"format":".3f","title":null}}}},
{"data":{"name":"q8"},"mark":{"type":"circle","size":10,"color":"black","opacity":1},"encoding":{"x":{"field":"x","type":"quantitative","axis":null},"y":{"field":"y","type":"quantitative","axis":{"orient":"left","values":[0,0.005,0.01,0.015],"labels":false,"title":null}}}}]},
{"width":347,"height":102,"resolve":{"axis":{"x":"independent","y":"independent"}},"layer":[
{"data":{"name":"titles"},"transform":[{"filter":"datum.q == 9"}],"mark":{"type":"text","fontSize":16.5,"font":"Liberation Sans","color":"#333","baseline":"middle"},"encoding":{"x":{"datum":110,"type":"quantitative","scale":{"domain":[12.8,207.2],"nice":false,"zero":false},"axis":null},"y":{"datum":0.0197,"type":"quantitative","scale":{"domain":[-0.00055,0.02273],"nice":false,"zero":false},"axis":null},"text":{"field":"label"}}},
{"data":{"name":"c9"},"mark":{"type":"line","color":"black","strokeWidth":1.9,"interpolate":"monotone"},"encoding":{"x":{"field":"x","type":"quantitative","axis":null},"y":{"field":"y","type":"quantitative","axis":{"orient":"right","values":[0,0.005,0.01,0.015],"labels":false,"title":null}}}},
{"data":{"name":"q9"},"mark":{"type":"circle","size":10,"color":"black","opacity":1},"encoding":{"x":{"field":"x","type":"quantitative","axis":{"orient":"bottom","values":[50,100,150,200],"title":null,"labelPadding":8,"labelFontSize":12}},"y":{"field":"y","type":"quantitative","axis":{"orient":"left","values":[0,0.005,0.01,0.015],"format":".3f","title":null}}}}]}
]
}
